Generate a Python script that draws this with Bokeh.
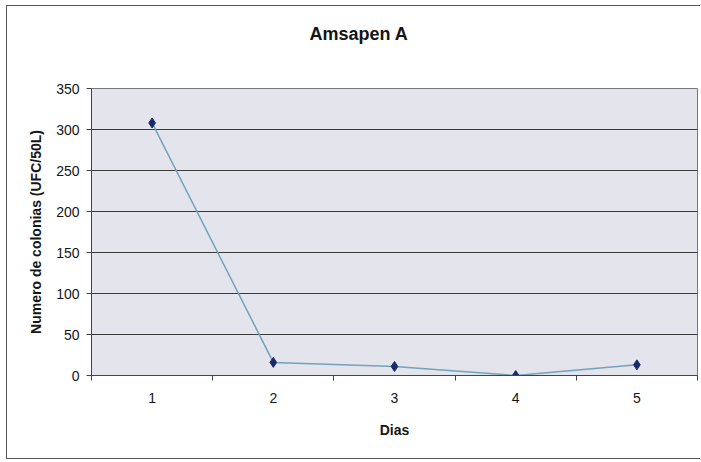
from bokeh.plotting import figure
from bokeh.models import FixedTicker, Range1d, Title
from bokeh.embed import file_html
from bokeh.resources import INLINE

title = "Amsapen A"
x_label = "Dias"
y_label = "Numero de colonias (UFC/50L)"
dias = [1, 2, 3, 4, 5]
colonias = [308, 16, 11, 0, 13]
y_ticks = [0, 50, 100, 150, 200, 250, 300, 350]

p = figure(width=694, height=454, output_backend="svg", toolbar_location=None,
           x_range=Range1d(0.5, 5.5), y_range=Range1d(0, 350),
           min_border_left=84, min_border_right=4, min_border_top=82, min_border_bottom=85)

# spacer between the chart title and the plot area (closest to the frame)
p.add_layout(Title(text=" ", text_font_size="25px"), "above")
p.add_layout(Title(text=title, align="left", offset=218,
                   text_font="Liberation Sans", text_font_size="18px",
                   text_font_style="bold", text_color="#151515"), "above")

p.background_fill_color = "#e4e5ec"
p.border_fill_color = "white"
p.outline_line_color = "#777777"
p.outline_line_width = 1

p.line(dias, colonias, line_color="#72a3ba", line_width=1.5)
p.scatter(dias, colonias, marker="diamond", size=10, fill_color="#1b2a6b", line_color="#1b2a6b")

p.xaxis.ticker = FixedTicker(ticks=dias, minor_ticks=[0.5, 1.5, 2.5, 3.5, 4.5, 5.5])
p.yaxis.ticker = FixedTicker(ticks=y_ticks)

for ax in (p.xaxis, p.yaxis):
    ax.axis_line_color = "#444444"
    ax.major_label_text_font = "Liberation Sans"
    ax.major_label_text_font_size = "14px"
    ax.major_label_text_color = "#151515"
    ax.axis_label_text_font = "Liberation Sans"
    ax.axis_label_text_font_size = "14px"
    ax.axis_label_text_font_style = "bold"
    ax.axis_label_text_color = "#151515"

p.xaxis.major_tick_line_color = None
p.xaxis.minor_tick_line_color = "#444444"
p.xaxis.minor_tick_out = 5
p.xaxis.minor_tick_in = 0
p.yaxis.minor_tick_line_color = None
p.yaxis.major_tick_line_color = "#444444"
p.yaxis.major_tick_out = 5
p.yaxis.major_tick_in = 0

p.xaxis.axis_label = x_label
p.yaxis.axis_label = y_label
p.xaxis.major_label_standoff = 11
p.xaxis.axis_label_standoff = 16
p.yaxis.major_label_standoff = 7
p.yaxis.axis_label_standoff = 9

p.xgrid.grid_line_color = None
p.ygrid.grid_line_color = "#3a3a3a"
p.ygrid.grid_line_width = 1

p.styles = {"margin": "5px 0 0 6px",
            "border-left": "1px solid #555555",
            "border-top": "1px solid #555555",
            "border-bottom": "1px solid #555555",
            "box-sizing": "border-box"}

open("out.html", "w").write(file_html(p, INLINE))
